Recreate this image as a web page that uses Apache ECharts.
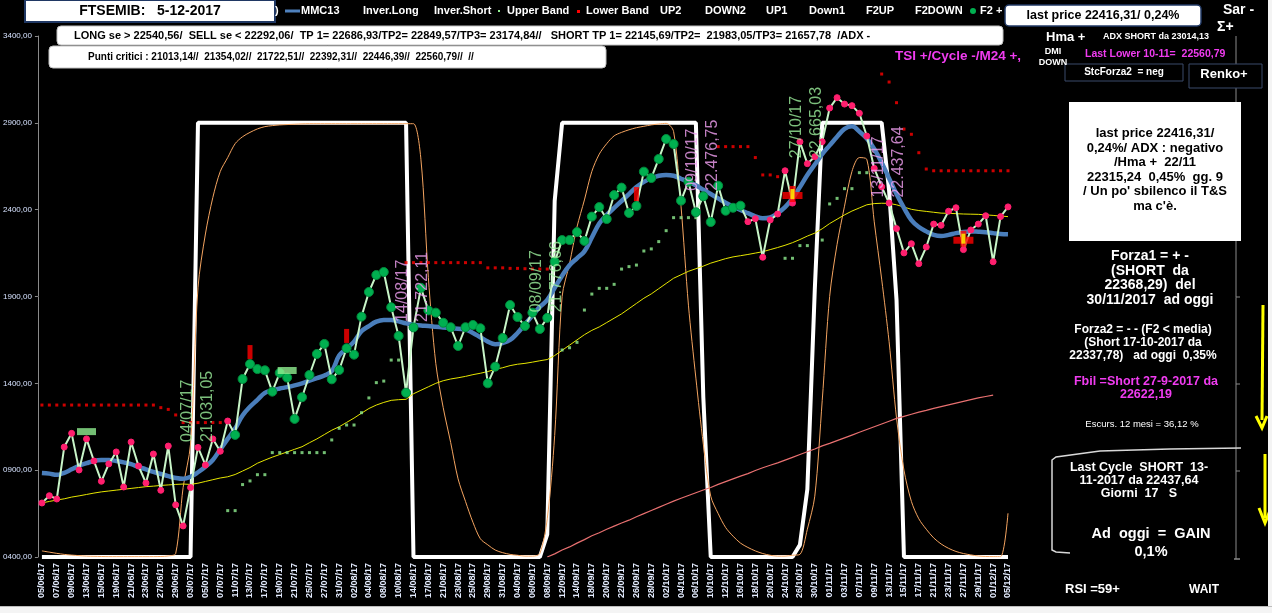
<!DOCTYPE html>
<html><head><meta charset="utf-8">
<script src="https://cdn.jsdelivr.net/npm/echarts/dist/echarts.min.js"></script>
<style>html,body{margin:0;padding:0;background:#000;}#c{width:1272px;height:613px;}</style>
</head><body><div id="c"></div>
<script>
const dates = ['05/06/17','06/06/17','07/06/17','08/06/17','09/06/17','12/06/17','13/06/17','14/06/17','15/06/17','16/06/17','19/06/17','20/06/17','21/06/17','22/06/17','23/06/17','26/06/17','27/06/17','28/06/17','29/06/17','30/06/17',
'03/07/17','04/07/17','05/07/17','06/07/17','07/07/17','10/07/17','11/07/17','12/07/17','13/07/17','14/07/17','17/07/17','18/07/17','19/07/17','20/07/17','21/07/17','24/07/17','25/07/17','26/07/17','27/07/17','28/07/17','31/07/17',
'01/08/17','02/08/17','03/08/17','04/08/17','07/08/17','08/08/17','09/08/17','10/08/17','11/08/17','14/08/17','16/08/17','17/08/17','18/08/17','21/08/17','22/08/17','23/08/17','24/08/17','25/08/17','28/08/17','29/08/17','30/08/17','31/08/17',
'01/09/17','04/09/17','05/09/17','06/09/17','07/09/17','08/09/17','11/09/17','12/09/17','13/09/17','14/09/17','15/09/17','18/09/17','19/09/17','20/09/17','21/09/17','22/09/17','25/09/17','26/09/17','27/09/17','28/09/17','29/09/17',
'02/10/17','03/10/17','04/10/17','05/10/17','06/10/17','09/10/17','10/10/17','11/10/17','12/10/17','13/10/17','16/10/17','17/10/17','18/10/17','19/10/17','20/10/17','23/10/17','24/10/17','25/10/17','26/10/17','27/10/17','30/10/17','31/10/17',
'01/11/17','02/11/17','03/11/17','06/11/17','07/11/17','08/11/17','09/11/17','10/11/17','13/11/17','14/11/17','15/11/17','16/11/17','17/11/17','20/11/17','21/11/17','22/11/17','23/11/17','24/11/17','27/11/17','28/11/17','29/11/17','30/11/17',
'01/12/17','04/12/17','05/12/17'];

const yTickLabels = ['0400,00','0900,00','1400,00','1900,00','2400,00','2900,00','3400,00'];

const price = [20711,20753,20734,21033,21112,20901,21080,20953,20836,20936,21005,20803,21062,20924,20826,20993,20784,21039,20700,20579,
20800,21031,20930,21080,21009,21183,21103,21425,21511,21482,21475,21352,21460,21433,21195,21320,21448,21569,21627,21423,21477,
21602,21565,21784,21926,22024,22041,21838,21673,21346,21722,21950,21820,21807,21749,21723,21615,21723,21736,21717,21400,21496,21661,
21851,21782,21730,21807,21713,21777,22100,22225,22225,22271,22220,22360,22415,22346,22484,22527,22381,22421,22619,22582,22692,
22807,22778,22452,22561,22385,22477,22329,22538,22394,22411,22423,22331,22348,22126,22341,22375,22624,22438,22791,22665,22705,22791,
22985,23045,23008,22999,22955,22824,22638,22532,22438,22291,22151,22204,22089,22185,22317,22310,22391,22411,22170,22283,22317,22365,
22100,22360,22416];

const mmc13 = [20884,20880,20873,20885,20905,20925,20940,20953,20958,20958,20953,20945,20935,20918,20905,20890,20878,20866,20855,20850,
20862,20888,20920,20959,21020,21080,21140,21215,21265,21305,21345,21360,21370,21378,21388,21400,21415,21430,21445,21470,21560,
21600,21640,21700,21730,21755,21765,21765,21757,21745,21738,21733,21730,21726,21722,21718,21714,21710,21690,21665,21640,21625,21632,
21650,21690,21740,21790,21840,21880,21950,22020,22080,22120,22160,22240,22320,22370,22410,22450,22490,22530,22560,22580,22595,
22600,22595,22578,22560,22540,22515,22490,22465,22440,22418,22398,22380,22362,22350,22355,22380,22415,22465,22530,22600,22660,22720,
22770,22820,22865,22880,22850,22810,22750,22670,22580,22490,22410,22340,22300,22275,22255,22248,22255,22265,22272,22275,22273,22270,
22265,22260,22258];

const slowMA = [20711,20720,20728,20735,20745,20752,20760,20768,20775,20780,20785,20790,20795,20800,20805,20808,20812,20815,20818,20820,
20818,20825,20835,20845,20855,20862,20875,20895,20915,20940,20958,20975,20990,21005,21020,21035,21058,21080,21105,21130,21150,
21175,21200,21228,21255,21275,21290,21302,21306,21308,21340,21360,21380,21400,21415,21425,21432,21440,21450,21458,21468,21480,21490,
21502,21510,21515,21522,21530,21537,21560,21590,21620,21650,21680,21705,21725,21750,21775,21800,21830,21860,21890,21915,21945,
21975,22005,22025,22045,22060,22075,22092,22105,22118,22128,22135,22142,22150,22158,22170,22182,22195,22210,22228,22248,22265,22290,
22320,22345,22370,22392,22410,22428,22435,22437,22436,22428,22415,22402,22395,22390,22385,22380,22379,22377,22375,22374,22373,22370,
22367,22363,22360];

const inverLong = [20400,20400,20400,20400,20400,20400,20400,20400,20400,20400,20400,20400,20400,20400,20400,20400,20400,20400,20400,20400,
20400,22900,22900,22900,22900,22900,22900,22900,22900,22900,22900,22900,22900,22900,22900,22900,22900,22900,22900,22900,22900,
22900,22900,22900,22900,22900,22900,22900,22900,22900,20400,20400,20400,20400,20400,20400,20400,20400,20400,20400,20400,20400,20400,
20400,20400,20400,20400,20400,20530,22450,22900,22900,22900,22900,22900,22900,22900,22900,22900,22900,22900,22900,22900,22900,
22900,22900,22900,22900,22900,21320,20400,20400,20400,20400,20400,20400,20400,20400,20400,20400,20400,20400,20470,20790,21940,22900,
22900,22900,22900,22900,22900,22900,22900,22900,22510,21880,20400,20400,20400,20400,20400,20400,20400,20400,20400,20400,20400,20400,
20400,20400,20400];

const cycleOsc = [20435,20428,20421,20415,20411,20408,20405,20404,20403,20402,20402,20402,20402,20402,20402,20402,20403,20406,20420,20800,
21050,21950,22260,22470,22620,22700,22780,22820,22845,22865,22878,22884,22888,22890,22892,22894,22895,22895,22895,22895,22895,
22895,22895,22895,22895,22895,22895,22895,22895,22895,22895,22690,22010,21515,21260,21060,20850,20720,20600,20505,20470,20440,20425,
20415,20410,20405,20405,20420,20620,21100,21900,22090,22300,22456,22620,22720,22780,22825,22845,22860,22872,22880,22888,22893,
22897,22850,22420,21850,21430,21050,20750,20650,20570,20520,20480,20455,20435,20420,20410,20405,20405,20410,20415,20560,20750,21300,
21900,22200,22420,22620,22700,22690,22330,22000,21640,21200,20900,20720,20620,20560,20510,20475,20450,20432,20420,20412,20406,20403,
20402,20402,20652];

const trendLine = [null,null,null,null,null,null,null,null,null,null,null,null,null,null,null,null,null,null,null,null,
null,null,null,null,null,null,null,null,null,null,null,null,null,null,null,null,null,null,null,null,null,
null,null,null,null,null,null,null,null,null,null,null,null,null,null,null,null,null,null,null,null,null,null,
null,null,null,null,null,20400,20418,20440,20458,20480,20500,20522,20540,20560,20578,20596,20612,20632,20650,
20668,20686,20704,20722,20738,20754,20770,20786,20800,20818,20834,20850,20866,20880,20898,20914,20928,20942,20958,20974,20990,21006,
21022,21040,21054,21070,21086,21102,21118,21134,21150,21166,21182,21198,21210,21222,21234,21244,21256,21266,21276,21286,21296,21306,
21316,21324,21332];

const upperBand = [[25,20667],[26,20667],[27,20817],[28,20838],[29,20874],[30,20874],[31,21001],[32,21001],[33,21001],[34,21001],[35,21001],[36,21001],[37,21001],[38,21001],
[39,21074],[40,21141],[41,21160],[42,21160],[43,21231],[44,21316],[45,21404],[46,21413],[47,21534],[48,21534],
[70,21592],[71,21605],[72,21636],[73,21822],[74,21914],[75,21947],[76,21947],[77,21970],[78,22058],[79,22072],[80,22081],[81,22162],[82,22174],[83,22216],
[84,22279],[85,22354],[86,22354],[87,22354],[88,22354],
[100,22120],[101,22120],[102,22193],[103,22193],[105,22225],[106,22433],[107,22465],[108,22521],[109,22521],[110,22613],[111,22613]];

const lowerBand = [[0,21275],[1,21275],[2,21275],[3,21275],[4,21275],[5,21275],[6,21275],[7,21275],[8,21275],[9,21275],[10,21275],[11,21275],[12,21275],[13,21275],[14,21275],[15,21275],
[16,21260],[17,21250],[18,21218],[19,21174],[20,21174],[21,21174],[22,21174],[23,21174],[24,21174],
[49,22095],[50,22095],[51,22095],[52,22095],[53,22095],[54,22095],[55,22095],[56,22095],[57,22095],[58,22095],[59,22095],
[60,22065],[61,22065],[62,22065],[63,22062],[64,22062],[65,22060],[66,22058],[67,22058],[68,22058],
[91,22763],[92,22763],[93,22763],[94,22763],[95,22763],[96,22700],[97,22600],[98,22600],[99,22590],
[113,23181],[114,23135],[115,23016],[116,22864],[117,22834],[118,22728],[119,22634],[120,22624],[121,22624],[122,22624],[123,22624],[124,22624],[125,22624],[126,22624],[127,22624],[128,22624],[129,22624],[130,22624]];

const upTrendFrom = 26, upTrendTo = 94;

const cycleIdx = [21, 50, 68, 89, 103, 114];
const cycleDate = ['04/07/17','14/08/17','08/09/17','09/10/17','27/10/17','13/11/17'];
const cycleVal = ['21.031,05','21.722,11','21.776,66','22.476,75','22.665,03','22.437,64'];
const cycleKind = ['low','high','low','high','low','high'];

const redBars = [[28,21580],[41,21673],[80,22490]];
const crosses = [[101,22490],[124,22233]];
const greenMarks = [[6,21122],[33,21474]];

const chart = echarts.init(document.getElementById('c'), null, {renderer:'canvas'});

const priceData = price.map((v,i)=>{
  const up = i>=upTrendFrom && i<=upTrendTo;
  return {value:v, symbol:'circle', symbolSize: up?9:6,
    itemStyle:{color: up?'#00b050':'#ff1f6e', borderColor: up?'#008a3c':'#ff1f6e', borderWidth:1}};
});

const cycleData = cycleIdx.map((ix,k)=>({
  value:[ix, price[ix]],
  label:{formatter: cycleDate[k]+'\n'+cycleVal[k], color: cycleKind[k]==='low' ? '#9cf09c' : '#f3a0f3'}
}));

const F = '"Liberation Sans", Arial, sans-serif';
function T(x,y,text,o){o=o||{};return {type:'text',z:o.z||50,style:{x:x,y:y,text:text,fill:o.fill||'#fff',
  font:(o.font||'bold 11px')+' '+F,align:o.align||'left',verticalAlign:'middle',textAlign:o.align||'left',textVerticalAlign:'middle',lineHeight:o.lh||14}};}
function R(x,y,w,h,o){o=o||{};return {type:'rect',z:o.z||40,shape:{x:x,y:y,width:w,height:h,r:o.r||0},
  style:{fill:o.fill||'#fff',stroke:o.stroke||null,lineWidth:o.lw||1}};}

const graphics = [
  // title
  R(25,0,250,22,{stroke:'#203864',lw:2}),
  T(150,11,'FTSEMIB:   5-12-2017',{fill:'#000',font:'bold 14px',align:'center'}),
  // legend
  T(275,11,')',{font:'bold 11px'}),
  {type:'line',z:50,shape:{x1:285,y1:11,x2:300,y2:11},style:{stroke:'#4f81bd',lineWidth:3}},
  T(301,11,'MMC13'),
  T(363,11,'Inver.Long'),
  T(434,11,'Inver.Short'),
  R(498,10,2,2,{fill:'#90ee90',z:50}),
  T(507,11,'Upper Band'),
  R(577,10,3,3,{fill:'#ff0000',z:50}),
  T(586,11,'Lower Band'),
  T(660,11,'UP2'),
  T(705,11,'DOWN2'),
  T(766,11,'UP1'),
  T(809,11,'Down1'),
  T(866,11,'F2UP'),
  T(915,11,'F2DOWN'),
  {type:'circle',z:50,shape:{cx:973,cy:11,r:3},style:{fill:'#00b050'}},
  T(980,11,'F2 +'),
  // info boxes
  R(57,26,946,19,{r:4,stroke:'#c0c0c0'}),
  T(74,35.5,'LONG se > 22540,56/  SELL se < 22292,06/  TP 1= 22686,93/TP2= 22849,57/TP3= 23174,84//   SHORT TP 1= 22145,69/TP2=  21983,05/TP3= 21657,78  /ADX -',{fill:'#000',font:'bold 11px'}),
  R(49,46,557,22,{r:4,stroke:'#c0c0c0'}),
  T(88,57,'Punti critici : 21013,14//  21354,02//  21722,51//  22392,31//  22446,39//  22560,79//  //',{fill:'#000',font:'bold 10px'}),
  R(1005,5,196,21,{r:4,stroke:'#203864',lw:1.5}),
  T(1103,16,'last price 22416,31/ 0,24%',{fill:'#000',font:'bold 12.5px',align:'center'}),
  T(1223,10,'Sar -',{font:'bold 14px'}),
  T(1217,27,'Σ+',{font:'bold 14px'}),
  T(1046,37,'Hma +',{font:'bold 13px'}),
  T(1103,37,'ADX SHORT da 23014,13',{font:'bold 9px'}),
  T(895,56,'TSI +/Cycle -/M24 +,',{fill:'#f03cf0',font:'bold 13.5px'}),
  T(1053,52,'DMI',{font:'bold 9px',align:'center'}),
  T(1053,63,'DOWN',{font:'bold 9px',align:'center'}),
  T(1085,54,'Last Lower 10-11=  22560,79',{fill:'#f03cf0',font:'bold 10.5px'}),
  R(1065,64,118,17,{fill:'#000',stroke:'#3a4a6a',lw:1}),
  T(1124,72,'StcForza2  = neg',{font:'bold 10px',align:'center'}),
  R(1189,64,73,24,{fill:'#000',stroke:'#3a4a6a',lw:1}),
  T(1224,74,'Renko+',{font:'bold 13px',align:'center'}),
  // right axis line
  {type:'line',z:30,shape:{x1:1236,y1:36,x2:1236,y2:559},style:{stroke:'#8a8a8a',lineWidth:1}},
  {type:'line',z:30,shape:{x1:1236,y1:384,x2:1240,y2:384},style:{stroke:'#8a8a8a',lineWidth:1}},
  {type:'line',z:30,shape:{x1:1236,y1:471,x2:1240,y2:471},style:{stroke:'#8a8a8a',lineWidth:1}},
  {type:'line',z:30,shape:{x1:1234,y1:559,x2:1240,y2:559},style:{stroke:'#8a8a8a',lineWidth:1.5}},
  {type:'line',z:30,shape:{x1:1236,y1:297,x2:1240,y2:297},style:{stroke:'#8a8a8a',lineWidth:1}},
  // white note box
  R(1069,102,172,139,{fill:'#fff'}),
  T(1155,170,"last price 22416,31/\n0,24%/ ADX : negativo\n/Hma +  22/11\n22315,24  0,45%  gg. 9\n/ Un po' sbilenco il T&S\nma c'è.",{fill:'#000',font:'bold 13px',align:'center',lh:14.6}),
  T(1150,278,'Forza1 = + -\n(SHORT  da\n22368,29)  del\n30/11/2017  ad oggi',{font:'bold 14px',align:'center',lh:14.6}),
  T(1143,343,'Forza2 = - - (F2 < media)\n(Short 17-10-2017 da\n22337,78)   ad oggi  0,35%',{font:'bold 12px',align:'center',lh:13}),
  T(1146,388,'Fbil =Short 27-9-2017 da\n22622,19',{fill:'#f03cf0',font:'bold 12.5px',align:'center',lh:12.5}),
  T(1142,424,'Escurs. 12 mesi = 36,12 %',{font:'9.5px',align:'center'}),
  {type:'polyline',z:45,shape:{points:[[1070,553],[1056,552],[1052,550],[1052,460],[1056,457],[1100,451],[1170,449],[1241,448]]},style:{stroke:'#d8d8d8',lineWidth:1.5,fill:null}},
  T(1139,481,'Last Cycle  SHORT  13-\n11-2017 da 22437,64\nGiorni  17   S',{font:'bold 12.5px',align:'center',lh:13}),
  T(1151,543,'Ad  oggi  =  GAIN\n0,1%',{font:'bold 14.5px',align:'center',lh:18}),
  T(1065,589,'RSI =59+',{font:'bold 13px'}),
  T(1189,590,'WAIT',{font:'bold 12px'}),
  // yellow arrows
  {type:'line',z:45,shape:{x1:1263,y1:305,x2:1262,y2:420},style:{stroke:'#ffff00',lineWidth:3}},
  {type:'polyline',z:45,shape:{points:[[1256,416],[1262,428],[1267,416]]},style:{stroke:'#ffff00',lineWidth:3,fill:null}},
  {type:'line',z:45,shape:{x1:1265,y1:454,x2:1265,y2:518},style:{stroke:'#ffff00',lineWidth:3}},
  {type:'polyline',z:45,shape:{points:[[1259,508],[1265,523],[1271,508]]},style:{stroke:'#ffff00',lineWidth:3,fill:null}},
  // sheet edge
  R(0,606,1272,7,{fill:'#f4f4f4',z:60}),
  {type:'line',z:61,shape:{x1:0,y1:606.5,x2:1272,y2:606.5},style:{stroke:'#bdbdbd',lineWidth:1}},
  R(1268,0,4,606,{fill:'#f4f4f4',z:60}),
];

const option = {
  backgroundColor:'#000',
  animation:false,
  grid:{left:37,right:264,top:36,bottom:56,containLabel:false},
  xAxis:{type:'category',data:dates,boundaryGap:false,
    axisLine:{show:false},axisTick:{show:false},splitLine:{show:false},
    axisLabel:{interval:1,rotate:90,color:'#e4ecff',fontSize:9,fontWeight:'bold',fontFamily:'Liberation Sans',margin:6}},
  yAxis:{type:'value',min:20400,max:23400,interval:500,offset:4,
    axisLine:{show:true,lineStyle:{color:'#8a8a8a'}},
    axisTick:{show:true,length:3,lineStyle:{color:'#8a8a8a'}},
    splitLine:{show:false},
    axisLabel:{color:'#d6e2ff',fontSize:8,fontFamily:'Liberation Sans',margin:6,
      formatter:v=>yTickLabels[Math.round((v-20400)/500)]}},
  graphic:graphics,
  series:[
    {name:'Inver.Long',type:'line',data:inverLong,symbol:'none',lineStyle:{color:'#ffffff',width:4},z:2,silent:true},
    {name:'Cycle',type:'line',data:cycleOsc,symbol:'none',smooth:0.3,lineStyle:{color:'#f4a460',width:1},z:3,silent:true},
    {name:'Trend',type:'line',data:trendLine,symbol:'none',lineStyle:{color:'#e87070',width:1.2},z:3,silent:true},
    {name:'Slow',type:'line',data:slowMA,symbol:'none',lineStyle:{color:'#e6e600',width:1},z:4,silent:true},
    {name:'Upper Band',type:'scatter',data:upperBand,symbol:'rect',symbolSize:3,itemStyle:{color:'#90ee90'},z:5,silent:true},
    {name:'Lower Band',type:'scatter',data:lowerBand,symbol:'rect',symbolSize:3,itemStyle:{color:'#ff0000'},z:5,silent:true},
    {name:'MMC13',type:'line',data:mmc13,symbol:'none',smooth:0.4,lineStyle:{color:'#4a7ebb',width:4.5},z:6,silent:true},
    {name:'Price',type:'line',data:priceData,showAllSymbol:true,lineStyle:{color:'#c8f5c8',width:2},z:7,silent:true},
    {name:'Bars',type:'scatter',data:redBars,symbol:'rect',symbolSize:[5,14],itemStyle:{color:'#ff0000'},z:8,silent:true},
    {name:'Green',type:'scatter',data:greenMarks,symbol:'rect',symbolSize:[19,7],itemStyle:{color:'#90ee90'},z:8,silent:true},
    {name:'Cross',type:'scatter',data:crosses,symbol:'path://M7,0H13V6H20V13H13V16H7V13H0V6H7Z',symbolSize:[20,16],itemStyle:{color:'#ff0000'},z:8,silent:true},
    {name:'CrossY',type:'scatter',data:crosses,symbol:'rect',symbolSize:[4,10],itemStyle:{color:'#ffff00'},z:9,silent:true},
    {name:'CycleLabels',type:'scatter',data:cycleData,symbolSize:1,itemStyle:{color:'rgba(0,0,0,0)'},z:10,silent:true,
      label:{show:true,position:[0,-5],rotate:90,align:'left',verticalAlign:'middle',fontSize:16,lineHeight:20,fontFamily:'Liberation Sans'}}
  ]
};
chart.setOption(option);
</script></body></html>
